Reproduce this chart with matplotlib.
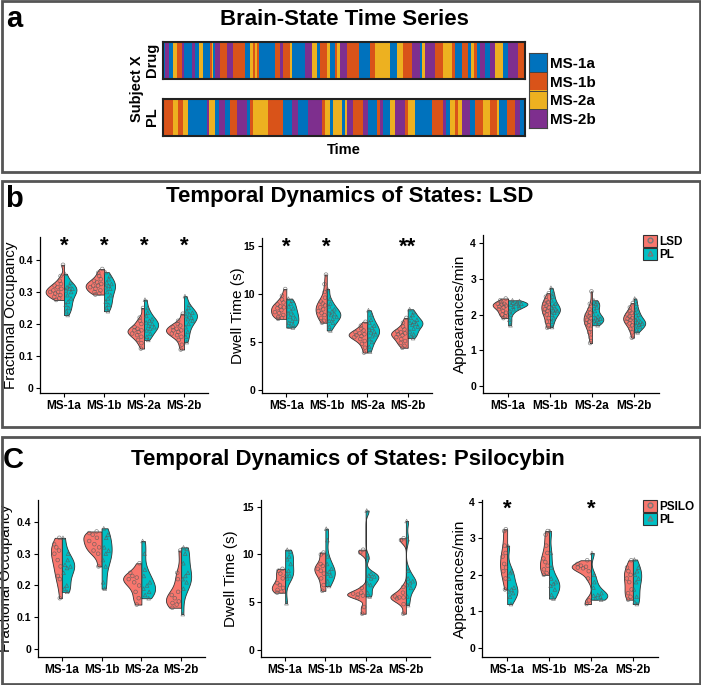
import numpy as np
import matplotlib
matplotlib.use('Agg')
import matplotlib.pyplot as plt
from matplotlib.colors import ListedColormap
from matplotlib.patches import Patch, Rectangle
from matplotlib.lines import Line2D

plt.rcParams['font.family'] = ['Liberation Sans', 'DejaVu Sans']

W, H = 701, 685

states = ['MS-1a', 'MS-1b', 'MS-2a', 'MS-2b']
state_colors = ['#0072BD', '#D95319', '#EDB120', '#7E2F8E']

# brain-state time series as runs: state index (0=MS-1a .. 3=MS-2b) and run length
drug_state = [0, 3, 0, 2, 1, 3, 0, 3, 0, 2, 0, 1, 2, 0, 3, 1, 3, 1, 0, 2, 1, 2, 1, 0, 1, 3,
              1, 2, 0, 3, 2, 0, 1, 2, 0, 1, 2, 3, 1, 0, 1, 2, 0, 2, 1, 3, 0, 2, 3, 1, 2,
              1, 0, 1, 0, 2, 1, 0, 3, 0, 3, 2, 0, 3, 1]
drug_len = [2, 4, 4, 4, 5, 2, 8, 3, 4, 4, 7, 2, 1, 2, 5, 7, 6, 12, 5, 3, 2, 2, 2, 16, 5, 3,
            7, 2, 13, 7, 5, 3, 7, 3, 5, 2, 3, 7, 12, 11, 5, 15, 7, 6, 9, 8, 2, 3, 10, 8, 9,
            3, 7, 6, 3, 3, 3, 3, 5, 5, 5, 8, 5, 10, 7]
pl_state = [1, 2, 1, 2, 0, 3, 2, 0, 3, 0, 1, 3, 0, 1, 2, 1, 0, 3, 0, 3, 1, 2, 0, 2, 0, 2,
            3, 1, 3, 0, 1, 3, 0, 2, 3, 1, 2, 0, 1, 3, 0, 2, 1, 2, 3, 0, 1, 2, 1, 2, 0,
            1, 3, 0]
pl_len = [10, 5, 5, 5, 19, 2, 6, 4, 6, 5, 7, 10, 3, 3, 15, 15, 9, 6, 10, 14, 3, 5, 3, 9, 3, 2,
          6, 10, 5, 9, 3, 3, 7, 5, 10, 3, 7, 17, 11, 3, 4, 5, 3, 4, 8, 5, 8, 7, 7, 2, 8,
          8, 5, 5]

# ---- panel b: LSD (one value per subject) ----
lsd_fo = [
    [0.385, 0.35, 0.335, 0.325, 0.32, 0.315, 0.31, 0.305, 0.30, 0.30, 0.295, 0.29, 0.285, 0.28, 0.275],
    [0.372, 0.36, 0.35, 0.34, 0.335, 0.33, 0.325, 0.32, 0.32, 0.315, 0.31, 0.305, 0.30, 0.295, 0.292],
    [0.25, 0.22, 0.21, 0.20, 0.19, 0.185, 0.18, 0.18, 0.175, 0.17, 0.165, 0.16, 0.15, 0.14, 0.123],
    [0.232, 0.21, 0.20, 0.195, 0.19, 0.185, 0.18, 0.18, 0.175, 0.17, 0.165, 0.16, 0.15, 0.135, 0.12],
]
lsd_pl_fo = [
    [0.357, 0.33, 0.32, 0.315, 0.31, 0.31, 0.305, 0.30, 0.29, 0.28, 0.27, 0.26, 0.25, 0.24, 0.228],
    [0.362, 0.35, 0.34, 0.33, 0.325, 0.32, 0.315, 0.31, 0.30, 0.29, 0.28, 0.27, 0.26, 0.25, 0.24],
    [0.276, 0.25, 0.235, 0.225, 0.215, 0.21, 0.205, 0.20, 0.195, 0.19, 0.185, 0.18, 0.17, 0.16, 0.15],
    [0.287, 0.26, 0.25, 0.24, 0.235, 0.23, 0.225, 0.22, 0.215, 0.21, 0.20, 0.19, 0.175, 0.16, 0.143],
]
lsd_dt = [
    [10.5, 9.8, 9.4, 9.1, 8.9, 8.7, 8.6, 8.5, 8.3, 8.1, 8.0, 7.8, 7.6, 7.5, 7.4],
    [12.0, 11.0, 10.2, 9.6, 9.2, 9.0, 8.8, 8.6, 8.4, 8.2, 8.0, 7.8, 7.5, 7.2, 7.0],
    [7.1, 6.7, 6.4, 6.2, 6.0, 5.9, 5.8, 5.7, 5.6, 5.5, 5.3, 5.1, 4.8, 4.4, 3.9],
    [7.5, 7.0, 6.6, 6.3, 6.1, 6.0, 5.9, 5.8, 5.7, 5.5, 5.3, 5.1, 4.9, 4.6, 4.4],
]
lsd_pl_dt = [
    [9.5, 9.3, 9.0, 8.7, 8.5, 8.2, 8.0, 7.8, 7.6, 7.4, 7.2, 7.0, 6.8, 6.6, 6.5],
    [10.5, 9.5, 9.0, 8.7, 8.4, 8.2, 8.0, 7.9, 7.8, 7.6, 7.4, 7.2, 7.0, 6.6, 6.2],
    [8.3, 7.8, 7.3, 7.0, 6.7, 6.5, 6.3, 6.1, 6.0, 5.8, 5.6, 5.3, 5.0, 4.5, 4.0],
    [8.4, 8.1, 7.8, 7.5, 7.3, 7.1, 7.0, 6.9, 6.8, 6.6, 6.4, 6.1, 5.8, 5.6, 5.4],
]
lsd_ap = [
    [2.45, 2.4, 2.35, 2.3, 2.3, 2.28, 2.25, 2.22, 2.2, 2.15, 2.1, 2.05, 2.0, 1.95, 1.9],
    [2.6, 2.5, 2.4, 2.35, 2.3, 2.25, 2.2, 2.15, 2.1, 2.05, 2.0, 1.9, 1.8, 1.7, 1.63],
    [2.65, 2.3, 2.15, 2.05, 2.0, 1.95, 1.9, 1.85, 1.8, 1.75, 1.7, 1.6, 1.5, 1.35, 1.2],
    [2.32, 2.2, 2.1, 2.05, 2.0, 1.95, 1.9, 1.88, 1.85, 1.8, 1.75, 1.7, 1.6, 1.5, 1.35],
]
lsd_pl_ap = [
    [2.4, 2.38, 2.35, 2.33, 2.3, 2.3, 2.28, 2.25, 2.22, 2.2, 2.15, 2.1, 2.0, 1.85, 1.7],
    [2.75, 2.6, 2.5, 2.4, 2.3, 2.25, 2.2, 2.15, 2.12, 2.1, 2.05, 2.0, 1.9, 1.8, 1.65],
    [2.4, 2.35, 2.3, 2.25, 2.2, 2.1, 2.0, 1.95, 1.9, 1.88, 1.85, 1.82, 1.8, 1.75, 1.7],
    [2.45, 2.3, 2.15, 2.05, 2.0, 1.9, 1.85, 1.8, 1.78, 1.75, 1.72, 1.7, 1.65, 1.58, 1.5],
]

# ---- panel c: psilocybin ----
psi_fo = [
    [0.35, 0.33, 0.32, 0.31, 0.30, 0.28, 0.26, 0.23, 0.22, 0.16],
    [0.37, 0.365, 0.36, 0.35, 0.34, 0.33, 0.32, 0.31, 0.30, 0.26],
    [0.27, 0.24, 0.23, 0.225, 0.22, 0.21, 0.20, 0.18, 0.16, 0.14],
    [0.31, 0.24, 0.22, 0.18, 0.17, 0.16, 0.15, 0.145, 0.14, 0.13],
]
psi_pl_fo = [
    [0.35, 0.30, 0.28, 0.265, 0.26, 0.255, 0.24, 0.20, 0.19, 0.18],
    [0.38, 0.36, 0.35, 0.32, 0.31, 0.30, 0.28, 0.26, 0.21, 0.19],
    [0.34, 0.30, 0.25, 0.23, 0.21, 0.20, 0.19, 0.18, 0.17, 0.16],
    [0.32, 0.315, 0.30, 0.27, 0.24, 0.23, 0.22, 0.21, 0.19, 0.11],
]
psi_dt = [
    [8.5, 8.3, 8.0, 7.5, 7.0, 6.8, 6.5, 6.3, 6.1, 6.0],
    [10.2, 10.0, 9.0, 8.8, 8.5, 8.3, 8.0, 7.5, 6.8, 6.2],
    [10.5, 10.2, 6.5, 6.0, 5.9, 5.8, 5.7, 5.5, 4.5, 3.8],
    [11.7, 11.5, 6.6, 6.0, 5.6, 5.5, 5.5, 5.4, 4.8, 3.8],
]
psi_pl_dt = [
    [10.5, 10.3, 9.8, 9.5, 9.0, 8.3, 8.0, 7.8, 7.5, 4.9],
    [12.7, 11.5, 9.8, 9.0, 8.5, 8.2, 8.0, 7.8, 7.2, 6.7],
    [14.6, 9.7, 8.0, 7.8, 7.7, 7.5, 7.0, 6.8, 6.0, 5.6],
    [13.5, 11.6, 8.3, 7.5, 7.2, 7.0, 6.8, 6.5, 5.6, 4.7],
]
psi_ap = [
    [3.25, 3.2, 2.8, 2.6, 2.5, 2.3, 2.2, 2.1, 1.9, 1.6],
    [3.2, 3.1, 2.8, 2.6, 2.45, 2.35, 2.25, 2.15, 2.05, 2.0],
    [2.4, 2.3, 2.25, 2.22, 2.2, 2.18, 2.1, 1.9, 1.3, 1.2],
    [2.4, 2.2, 2.1, 2.0, 1.9, 1.8, 1.6, 1.5, 1.4, 1.32],
]
psi_pl_ap = [
    [2.8, 2.1, 2.05, 1.9, 1.65, 1.6, 1.55, 1.5, 1.4, 1.2],
    [3.2, 2.6, 2.2, 1.9, 1.8, 1.75, 1.7, 1.6, 1.45, 1.35],
    [2.6, 2.0, 1.8, 1.65, 1.5, 1.45, 1.43, 1.4, 1.35, 1.32],
    [2.42, 2.2, 2.1, 2.0, 1.9, 1.8, 1.6, 1.4, 1.25, 1.2],
]

stars_lsd_fo = ['*', '*', '*', '*']
stars_lsd_dt = ['*', '*', '', '**']
stars_psi_ap = ['*', '', '*', '']

RED = '#F8766D'
TEAL = '#00BFC4'


def rect(x0, y0, x1, y1):
    return [x0 / W, 1 - y1 / H, (x1 - x0) / W, (y1 - y0) / H]


def ftext(x, y, s, **kw):
    fig.text(x / W, 1 - y / H, s, **kw)


def nrd0(kde):
    # ggplot-like bandwidth (bw.nrd0) expressed as a mlab factor
    x = np.asarray(kde.dataset).ravel()
    return nrd0_factor(x)


def nrd0_factor(x):
    sd = x.std(ddof=1)
    q75, q25 = np.percentile(x, [75, 25])
    iqr = (q75 - q25) / 1.34
    lo = min(sd, iqr) if iqr > 0 else sd
    return 0.9 * lo * len(x) ** (-0.2) / sd


def kde(x, grid):
    x = np.asarray(x, float)
    bw = x.std(ddof=1) * nrd0_factor(x)
    z = (grid[:, None] - x[None, :]) / bw
    return np.exp(-0.5 * z ** 2).sum(1) / (len(x) * bw * np.sqrt(2 * np.pi))


def violin_panel(ax, drug, pl, ylim, yticks, yticklabels, ylabel, stars, lab_x, axl, axw):
    pos = np.arange(1, 5)
    groups = []
    for i in range(4):
        groups.append((drug[i], pos[i], 'low', RED, 'o'))
        groups.append((pl[i], pos[i], 'high', TEAL, '^'))
    maxd = []
    for vals, *_ in groups:
        g = np.linspace(min(vals), max(vals), 200)
        maxd.append(kde(vals, g).max())
    gmax = max(maxd)
    for (vals, p, side, col, mk), md in zip(groups, maxd):
        w = 0.92 * md / gmax
        parts = ax.violinplot([vals], positions=[p], widths=w, side=side,
                              showextrema=False, bw_method=nrd0, points=200)
        for b in parts['bodies']:
            b.set_facecolor(col)
            b.set_edgecolor('#333333')
            b.set_alpha(1)
            b.set_linewidth(0.6)
        vals = np.asarray(vals, float)
        half = 0.5 * w * kde(vals, vals) / md
        frac = 0.15 + 0.7 * ((np.arange(len(vals)) * 0.618034 + 0.3) % 1)
        sgn = -1 if side == 'low' else 1
        ax.scatter(p + sgn * frac * half, vals, s=7, marker=mk, facecolors='none',
                   edgecolors='#5a5a5a', linewidths=0.5, alpha=0.75, zorder=3)
    for p, s in zip(pos, stars):
        if s:
            ax.text(p, 1.01, s, transform=ax.get_xaxis_transform(), ha='center',
                    va='top', fontsize=16, fontweight='bold')
    ax.set_xlim(0.4, 4.6)
    ax.set_ylim(*ylim)
    ax.set_xticks(pos)
    ax.set_xticklabels(states, fontsize=8.5, fontweight='bold')
    ax.set_yticks(yticks)
    ax.set_yticklabels(yticklabels, fontsize=7.5, fontweight='bold')
    ax.tick_params(length=3, width=0.8, pad=2)
    for sp in ['top', 'right']:
        ax.spines[sp].set_visible(False)
    for sp in ['left', 'bottom']:
        ax.spines[sp].set_linewidth(0.9)
    ax.set_ylabel(ylabel, fontsize=11)
    ax.yaxis.set_label_coords(-(axl - lab_x) / axw, 0.5)


def add_legend(ax, drug_name, x_anchor):
    h = [(Patch(facecolor=RED, edgecolor='#333333', linewidth=0.8),
          Line2D([], [], marker='o', ls='', mfc='none', mec='#777777', ms=3.5)),
         (Patch(facecolor=TEAL, edgecolor='#333333', linewidth=0.8),
          Line2D([], [], marker='^', ls='', mfc='none', mec='#777777', ms=3.5))]
    ax.legend(h, [drug_name, 'PL'], loc='upper left', bbox_to_anchor=(x_anchor, 1.0),
              frameon=False, handlelength=1.2, handleheight=1.2, handletextpad=0.2,
              labelspacing=0.0, borderpad=0, borderaxespad=0,
              prop={'weight': 'bold', 'size': 8.5})


fig = plt.figure(figsize=(W / 100, H / 100), dpi=100)

# panel frames
for y0, y1 in [(1, 172), (181, 427), (437, 684)]:
    fig.patches.append(Rectangle((1.5 / W, 1 - y1 / H), (W - 3) / W, (y1 - y0) / H,
                                 transform=fig.transFigure, fill=False,
                                 edgecolor='#555555', linewidth=2))

# ---- panel a ----
cmap = ListedColormap(state_colors)
for (st, ln), (y0, y1) in [((drug_state, drug_len), (42, 79)), ((pl_state, pl_len), (99, 136))]:
    ax = fig.add_axes(rect(163, y0, 525, y1))
    seq = np.repeat(st, ln)[None, :]
    ax.imshow(seq, cmap=cmap, vmin=-0.5, vmax=3.5, aspect='auto', interpolation='nearest')
    ax.set_xticks([])
    ax.set_yticks([])
    for sp in ax.spines.values():
        sp.set_linewidth(1.5)
        sp.set_edgecolor('#222222')

lax = fig.add_axes(rect(529, 53, 547, 128))
lax.imshow(np.arange(4)[:, None], cmap=cmap, vmin=-0.5, vmax=3.5, aspect='auto')
for yy in [0.5, 1.5, 2.5]:
    lax.axhline(yy, color='#444444', lw=0.7)
lax.set_xticks([])
lax.set_yticks(range(4))
lax.set_yticklabels(states, fontsize=11, fontweight='bold')
lax.yaxis.tick_right()
lax.tick_params(length=0, pad=2)
for sp in lax.spines.values():
    sp.set_linewidth(0.8)
    sp.set_edgecolor('#444444')

ftext(6, 27, 'a', fontsize=21, fontweight='bold', va='baseline')
ftext(344, 25, 'Brain-State Time Series', fontsize=16, fontweight='bold', ha='center', va='baseline')
ftext(137, 89, 'Subject X', fontsize=10.5, fontweight='bold', rotation=90, ha='center', va='center')
ftext(152, 60, 'Drug', fontsize=10.5, fontweight='bold', rotation=90, ha='center', va='center')
ftext(152, 117, 'PL', fontsize=10.5, fontweight='bold', rotation=90, ha='center', va='center')
ftext(344, 150, 'Time', fontsize=10.5, fontweight='bold', ha='center', va='center')

# ---- panel b ----
ftext(5, 207, 'b', fontsize=21, fontweight='bold', va='baseline')
ftext(350, 202, 'Temporal Dynamics of States: LSD', fontsize=16, fontweight='bold',
      ha='center', va='baseline')

ax = fig.add_axes(rect(40, 237, 208, 393))
violin_panel(ax, lsd_fo, lsd_pl_fo, (-0.016, 0.472), [0, 0.1, 0.2, 0.3, 0.4],
             ['0', '0.1', '0.2', '0.3', '0.4'], 'Fractional Occupancy', stars_lsd_fo, 18, 40, 168)
ax = fig.add_axes(rect(262, 238, 432, 393))
violin_panel(ax, lsd_dt, lsd_pl_dt, (-0.3, 15.8), [0, 5, 10, 15],
             ['0', '5', '10', '15'], 'Dwell Time (s)', stars_lsd_dt, 245, 262, 170)
ax = fig.add_axes(rect(483, 235, 659, 393))
violin_panel(ax, lsd_ap, lsd_pl_ap, (-0.2, 4.23), [0, 1, 2, 3, 4],
             ['0', '1', '2', '3', '4'], 'Appearances/min', ['', '', '', ''], 467, 483, 176)
add_legend(ax, 'LSD', (643 - 483) / 176)

# ---- panel c ----
ftext(3, 468, 'C', fontsize=21, fontweight='bold', va='baseline')
ftext(348, 465, 'Temporal Dynamics of States: Psilocybin', fontsize=16, fontweight='bold',
      ha='center', va='baseline')

ax = fig.add_axes(rect(38, 500, 205, 657))
violin_panel(ax, psi_fo, psi_pl_fo, (-0.025, 0.469), [0, 0.1, 0.2, 0.3, 0.4],
             ['0', '0.1', '0.2', '0.3', '0.4'], 'Fractional Occupancy', ['', '', '', ''], 13, 38, 167)
ax = fig.add_axes(rect(261, 500, 430, 657))
violin_panel(ax, psi_dt, psi_pl_dt, (-0.73, 15.7), [0, 5, 10, 15],
             ['0', '5', '10', '15'], 'Dwell Time (s)', ['', '', '', ''], 238, 261, 169)
ax = fig.add_axes(rect(482, 500, 658, 657))
violin_panel(ax, psi_ap, psi_pl_ap, (-0.25, 4.05), [0, 1, 2, 3, 4],
             ['0', '1', '2', '3', '4'], 'Appearances/min', stars_psi_ap, 467, 482, 176)
add_legend(ax, 'PSILO', (643 - 482) / 176)

fig.savefig('out.png', dpi=100)
